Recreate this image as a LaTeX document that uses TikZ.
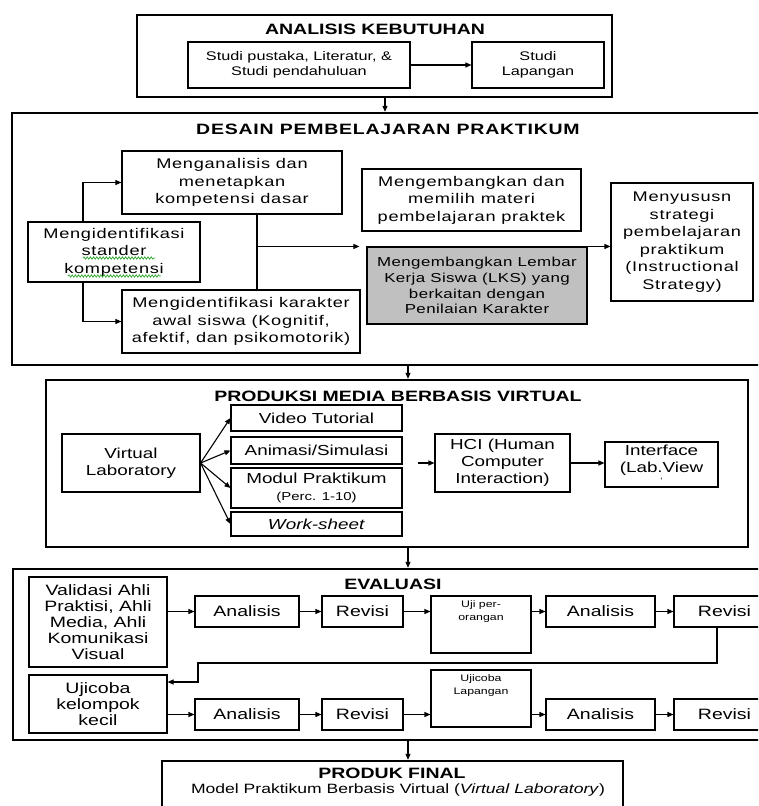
\documentclass[tikz,border=0pt]{standalone}
\usepackage{fontspec}
\setmainfont{Liberation Sans}[FakeStretch=1.3]
\newfontfamily\widefont{Liberation Sans}[FakeStretch=1.3,LetterSpace=5]
\newfontfamily\lksface{Liberation Sans}[FakeStretch=1.3,LetterSpace=3]
\usetikzlibrary{arrows.meta,positioning,decorations.pathmorphing}
\definecolor{lksgray}{RGB}{192,192,192}
\definecolor{wavegreen}{RGB}{60,170,60}
\newcommand\hdfont{\fontsize{15}{17}\selectfont\bfseries}
\newcommand\kbfont{\fontsize{12.5}{14.5}\selectfont}
\newcommand\dsfont{\widefont\fontsize{14}{17.5}\selectfont}
\newcommand\lksfont{\lksface\fontsize{13}{15.7}\selectfont}
\newcommand\mdfont{\fontsize{14.5}{16.8}\selectfont}
\newcommand\evfont{\fontsize{15}{16}\selectfont}
\newcommand\ujfont{\fontsize{9.5}{13}\selectfont}
\begin{document}
\begin{tikzpicture}[x=1pt,y=-1pt,
  frame/.style 2 args={draw, line width=2.4pt, minimum width=#1, minimum height=#2, inner sep=0pt},
  box/.style 2 args={draw, line width=1.1pt, minimum width=#1, minimum height=#2, inner sep=0pt, align=center},
  title/.style={font=\hdfont, inner sep=0pt},
  arr/.style={line width=1.1pt, -{Triangle[length=6pt,width=5pt]}},
  line/.style={line width=1.1pt},
  wave/.style={draw=wavegreen, line width=0.8pt, decorate, decoration={snake, amplitude=1.1pt, segment length=3.2pt}}]
\useasboundingbox (0,0) rectangle (758,806);
\clip (0,0) rectangle (758,806);
\node[frame={475}{82}] (kebutuhan) at (374.5,56) {};
\node[frame={763}{252}] (desain) at (393.5,239) {};
\node[frame={702}{167}] (produksi) at (397,463.5) {};
\node[frame={762}{171}] (evaluasi) at (394,654.5) {};
\node[frame={461}{69}] (final) at (392.5,795.5) {};
\node[title] (tkebutuhan) at (375,29) {ANALISIS KEBUTUHAN};
\node[title, font=\hdfont\widefont] (tdesain) at (388,129) {DESAIN PEMBELAJARAN PRAKTIKUM};
\node[title] (tproduksi) at (398,396) {PRODUKSI MEDIA BERBASIS VIRTUAL};
\node[title] (tevaluasi) at (393,584) {EVALUASI};
\node[title] (tfinal) at (392,773) {PRODUK FINAL};
\node[inner sep=0pt, font=\fontsize{13.5}{16}\selectfont] (sfinal) at (398,790) {Model Praktikum Berbasis Virtual (\textit{Virtual Laboratory})};
\coordinate (a1) at (385,0);
\coordinate (a2) at (408,0);
\draw[arr] (kebutuhan.south -| a1) -- (desain.north -| a1);
\draw[arr] (desain.south -| a2) -- (produksi.north -| a2);
\draw[arr] (produksi.south -| a2) -- (evaluasi.north -| a2);
\draw[arr] (evaluasi.south -| a2) -- (final.north -| a2);
\node[box={222}{46}, font=\kbfont] (pustaka) at (299,65) {Studi pustaka, Literatur, \&\\Studi pendahuluan};
\node[box={132}{46}, font=\kbfont] (lapangan) at (538,65) {Studi\\Lapangan};
\draw[arr] (pustaka.east) -- (lapangan.west);
\node[box={220}{63}, font=\dsfont] (analisa) at (232,182.5) {Menganalisis dan\\menetapkan\\kompetensi dasar};
\node[box={172}{60}, font=\dsfont] (standar) at (114,252) {Mengidentifikasi\\stander\\kompetensi};
\node[box={238}{63}, font=\dsfont] (karakter) at (241,321.5) {Mengidentifikasi karakter\\awal siswa (Kognitif,\\afektif, dan psikomotorik)};
\node[box={219}{62}, font=\dsfont] (materi) at (471.5,200) {Mengembangkan dan\\memilih materi\\pembelajaran praktek};
\node[box={220}{77}, font=\lksfont, fill=lksgray] (lks) at (477,285.5) {Mengembangkan Lembar\\Kerja Siswa (LKS) yang\\berkaitan dengan\\Penilaian Karakter};
\node[box={142}{118}, font=\dsfont] (strategi) at (682,242) {Menyususn\\strategi\\pembelajaran\\praktikum\\(Instructional\\Strategy)};
\draw[wave] (83,258) -- (155,258);
\draw[wave] (68,276) -- (161,276);
\coordinate (sx) at (83,0);
\coordinate (vx) at (257,0);
\draw[arr] (standar.north -| sx) |- (analisa.west);
\draw[arr] (standar.south -| sx) |- (karakter.west);
\draw[line] (analisa.south -| vx) -- (karakter.north -| vx);
\draw[arr, shorten >=7pt] (vx |- lks.north) -- (lks.north west);
\draw[arr] (lks.north east) -- (strategi.west |- lks.north);
\node[box={138}{58}, font=\mdfont] (vlab) at (131,463) {Virtual\\Laboratory};
\node[box={171}{26}, font=\mdfont] (video) at (316.5,418) {Video Tutorial};
\node[box={171}{27}, font=\mdfont] (animasi) at (316.5,450.5) {Animasi/Simulasi};
\node[box={171}{40}, font=\mdfont] (modul) at (316.5,488) {Modul Praktikum\\{\fontsize{11.5}{13}\selectfont(Perc. 1-10)}};
\node[box={171}{24}, font=\mdfont] (sheet) at (316.5,524) {\textit{Work-sheet}};
\node[box={135}{58}, font=\mdfont] (hci) at (502.5,463) {HCI (Human\\Computer\\Interaction)};
\node[box={113}{45}, font=\mdfont] (iface) at (661.5,464.5) {Interface\\(Lab.View\\[-6pt]{\fontsize{8}{8}\selectfont`}};
\coordinate (hin) at (418,463);
\draw[arr] (vlab.east) -- (video.west);
\draw[arr] (vlab.east) -- (animasi.west);
\draw[arr] (vlab.east) -- (modul.west);
\draw[arr] (vlab.east) -- (sheet.west);
\draw[arr] (hin) -- (hci.west);
\draw[arr] (hci.east) -- (iface.west |- hci.east);
\node[box={138}{90}, font=\evfont] (validasi) at (98,622) {Validasi Ahli\\Praktisi, Ahli\\Media, Ahli\\Komunikasi\\Visual};
\node[box={104}{31}, font=\evfont] (analisis1) at (247,611.5) {Analisis};
\node[box={81}{31}, font=\evfont] (revisi1) at (362.5,611.5) {Revisi};
\node[box={100}{57}] (uji) at (481,624.5) {};
\node[font=\ujfont, align=center, inner sep=0pt, below=5pt of uji.north] (tuji) {Uji per-\\orangan};
\node[box={109}{31}, font=\evfont] (analisis2) at (600.5,611.5) {Analisis};
\node[box={101}{31}, font=\evfont] (revisi2) at (724.5,611.5) {Revisi};
\node[box={138}{58}, font=\evfont] (kelompok) at (98,704) {Ujicoba\\kelompok\\kecil};
\node[box={104}{31}, font=\evfont] (analisis3) at (247,714.5) {Analisis};
\node[box={81}{31}, font=\evfont] (revisi3) at (362.5,714.5) {Revisi};
\node[box={100}{57}] (uji2) at (481,698.5) {};
\node[font=\ujfont, align=center, inner sep=0pt, below=5pt of uji2.north] (tuji2) {Ujicoba\\Lapangan};
\node[box={109}{31}, font=\evfont] (analisis4) at (600.5,714.5) {Analisis};
\node[box={101}{31}, font=\evfont] (revisi4) at (724.5,714.5) {Revisi};
\draw[arr] (validasi.east |- analisis1.west) -- (analisis1.west);
\draw[arr] (analisis1.east) -- (revisi1.west);
\draw[arr] (revisi1.east) -- (uji.west |- revisi1.east);
\draw[arr] (uji.east |- analisis2.west) -- (analisis2.west);
\draw[arr] (analisis2.east) -- (revisi2.west);
\coordinate (ret1) at (717,663);
\coordinate (ret2) at (198,682);
\draw[arr] (revisi2.south -| ret1) -- (ret1) -| (ret2) -- (kelompok.east |- ret2);
\draw[arr] (kelompok.east |- analisis3.west) -- (analisis3.west);
\draw[arr] (analisis3.east) -- (revisi3.west);
\draw[arr] (revisi3.east) -- (uji2.west |- revisi3.east);
\draw[arr] (uji2.east |- analisis4.west) -- (analisis4.west);
\draw[arr] (analisis4.east) -- (revisi4.west);
\end{tikzpicture}
\end{document}
